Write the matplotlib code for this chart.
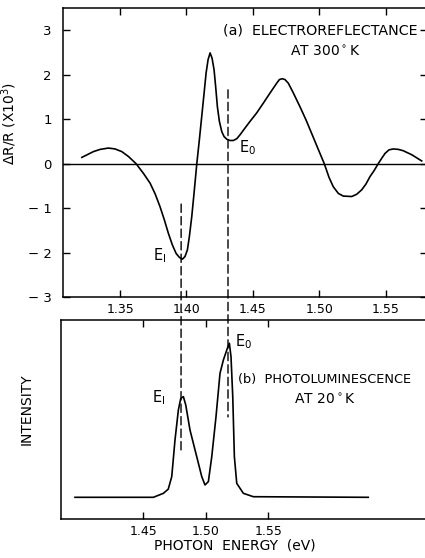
import matplotlib
matplotlib.use("Agg")
import matplotlib.pyplot as plt
from matplotlib.patches import ConnectionPatch

# (a) electroreflectance at 300 K, dR/R x 10^3
er_energy = [1.3212, 1.3299, 1.335, 1.3412, 1.3462, 1.3513, 1.3563, 1.362,
             1.3676, 1.3726, 1.3764, 1.3801, 1.3834, 1.3864, 1.3894, 1.3922,
             1.3947, 1.3969, 1.3989, 1.4007, 1.4022, 1.404, 1.4057, 1.4078,
             1.4097, 1.4115, 1.4133, 1.4148, 1.4163, 1.4178, 1.4193, 1.4208,
             1.422, 1.4233, 1.4248, 1.4266, 1.4283, 1.4303, 1.4328, 1.4353,
             1.4379, 1.4404, 1.4441, 1.4479, 1.4529, 1.4579, 1.463, 1.468,
             1.47, 1.4722, 1.4742, 1.4767, 1.4805, 1.4855, 1.4901, 1.4943,
             1.4993, 1.5038, 1.5074, 1.5106, 1.5144, 1.5181, 1.5245, 1.5282,
             1.532, 1.5352, 1.5383, 1.5413, 1.5445, 1.5471, 1.5496, 1.5526,
             1.5558, 1.5596, 1.5633, 1.5697, 1.5772]
er_signal = [0.14, 0.27, 0.32, 0.35, 0.33, 0.27, 0.16, 0.0,
             -0.22, -0.44, -0.68, -0.97, -1.27, -1.57, -1.83, -2.02,
             -2.11, -2.15, -2.09, -1.94, -1.64, -1.19, -0.67, 0.0,
             0.53, 1.06, 1.59, 2.04, 2.34, 2.49, 2.37, 2.11,
             1.73, 1.28, 0.95, 0.72, 0.61, 0.55, 0.52, 0.52,
             0.56, 0.65, 0.80, 0.95, 1.14, 1.36, 1.59, 1.81,
             1.89, 1.91, 1.89, 1.81, 1.59, 1.28, 0.98, 0.68,
             0.32, 0.0, -0.31, -0.52, -0.67, -0.73, -0.74, -0.69,
             -0.59, -0.46, -0.29, -0.16, 0.0, 0.12, 0.23, 0.31,
             0.33, 0.32, 0.29, 0.20, 0.06]

# (b) photoluminescence at 20 K, arbitrary intensity
pl_energy = [1.3954, 1.4581, 1.4661, 1.4700, 1.4728, 1.4754, 1.4781, 1.48,
             1.4821, 1.484, 1.4874, 1.4928, 1.4968, 1.4994, 1.5021, 1.5048,
             1.5082, 1.5114, 1.5141, 1.5173, 1.5189, 1.5202, 1.5216, 1.5229,
             1.5248, 1.5301, 1.5381, 1.630]
pl_intensity = [0.109, 0.109, 0.129, 0.15, 0.213, 0.397, 0.548, 0.606,
                0.615, 0.573, 0.447, 0.313, 0.213, 0.171, 0.188, 0.313,
                0.514, 0.732, 0.799, 0.858, 0.883, 0.816, 0.615, 0.313,
                0.179, 0.129, 0.112, 0.109]

# marker lines E_I, E_0 (energy in each panel, and end heights)
er_marks = [1.396, 1.4313]
er_marks_top = [-0.91, 1.66]
pl_marks = [1.4802, 1.5178]
pl_marks_bot = [0.347, 0.513]

er_ticks = [1.35, 1.40, 1.45, 1.50, 1.55]
er_ticklabels = ["1.35", "1.40", "1.45", "1.50", "1.55"]
er_yticks = [-3, -2, -1, 0, 1, 2, 3]
er_yticklabels = ["\u2212 3", "\u2212 2", "\u2212 1", "0", "1", "2", "3"]
pl_ticks = [1.45, 1.50, 1.55]
pl_ticklabels = ["1.45", "1.50", "1.55"]

W, H = 425, 558
fig = plt.figure(figsize=(W / 100, H / 100), dpi=100)

ax1 = fig.add_axes([63 / W, 1 - 297 / H, (427 - 63) / W, 289 / H])
ax2 = fig.add_axes([61 / W, 1 - 519 / H, (427 - 61) / W, 199 / H])

for ax in (ax1, ax2):
    for s in ax.spines.values():
        s.set_linewidth(1.1)
    ax.tick_params(direction="in", length=5, width=1, labelsize=9, pad=4)

# top panel
ax1.plot(er_energy, er_signal, color="black", lw=1.2, solid_joinstyle="round")
ax1.axhline(0, color="black", lw=1)
ax1.set_xlim(1.307, 1.5812)
ax1.set_ylim(-3, 3.5)
ax1.set_xticks(er_ticks)
ax1.set_xticklabels(er_ticklabels)
ax1.set_yticks(er_yticks)
ax1.set_yticklabels(er_yticklabels)
ax1.tick_params(top=True, right=True)
ax1.tick_params(axis="y", pad=8, labelsize=9.5)
ax1.set_ylabel("\u0394R/R (X10$^3$)", fontsize=10)
ax1.yaxis.set_label_coords(-0.12, 0.60)

ax1.text(1.5744, 3.0, "(a)  ELECTROREFLECTANCE", ha="right", va="center", fontsize=10.3)
ax1.text(1.5045, 2.52, "AT 300$^\\circ$K", ha="center", va="center", fontsize=10)
ax1.text(1.3802, -2.06, "E$_\\mathrm{I}$", ha="center", va="center", fontsize=10.5)
ax1.text(1.4464, 0.37, "E$_0$", ha="center", va="center", fontsize=10.5)

# bottom panel
ax2.plot(pl_energy, pl_intensity, color="black", lw=1.2, solid_joinstyle="round")
ax2.set_xlim(1.3842, 1.677)
ax2.set_ylim(0, 1)
ax2.set_xticks(pl_ticks)
ax2.set_xticklabels(pl_ticklabels)
ax2.set_yticks([])
ax2.tick_params(top=True)
ax2.spines["right"].set_visible(False)
ax2.set_ylabel("INTENSITY", fontsize=10)
ax2.yaxis.set_label_coords(-0.075, 0.55)
ax2.set_xlabel("PHOTON  ENERGY  (eV)", fontsize=10)
ax2.xaxis.set_label_coords(0.475, -0.10)

ax2.text(1.5258, 0.70, "(b)  PHOTOLUMINESCENCE", ha="left", va="center", fontsize=9.3)
ax2.text(1.5954, 0.60, "AT 20$^\\circ$K", ha="center", va="center", fontsize=10)
ax2.text(1.4674, 0.61, "E$_\\mathrm{I}$", ha="right", va="center", fontsize=10.5)
ax2.text(1.5236, 0.89, "E$_0$", ha="left", va="center", fontsize=10.5)

# dashed lines running through both panels
for xa, ya, xb, yb in zip(er_marks, er_marks_top, pl_marks, pl_marks_bot):
    con = ConnectionPatch(xyA=(xa, ya), coordsA=ax1.transData,
                          xyB=(xb, yb), coordsB=ax2.transData,
                          color="black", lw=1, linestyle=(0, (6, 3)))
    fig.add_artist(con)

fig.savefig("out.png", dpi=100)
